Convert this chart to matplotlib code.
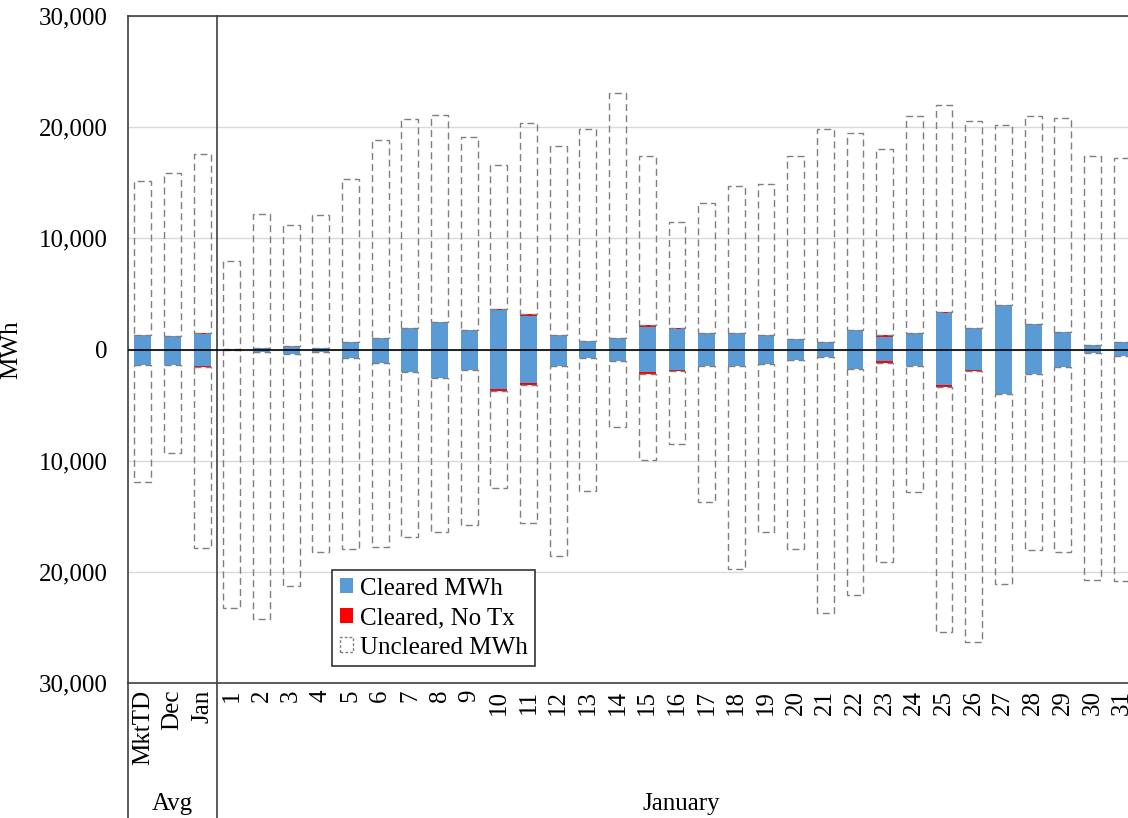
"""Cleared and uncleared MWh by day, January, with averages."""

import matplotlib.pyplot as plt
import numpy as np
from matplotlib.patches import Patch
from matplotlib.ticker import FuncFormatter

plt.rcParams["font.family"] = ["Liberation Serif", "DejaVu Serif"]

avg_labels = ["MktTD", "Dec", "Jan"]
day_labels = [str(d) for d in range(1, 32)]
labels = avg_labels + day_labels

# upper side (MWh)
cleared_up = [1260, 1200, 1400,
              50, 150, 310, 150, 680, 1050, 1920, 2470, 1760, 3530,
              2980, 1330, 740, 1040, 2040, 1820, 1500, 1470, 1300, 970,
              660, 1730, 1100, 1470, 3240, 1930, 4000, 2260, 1600, 370, 700]
notx_up = [40, 40, 80,
           0, 0, 0, 0, 0, 0, 0, 0, 0, 120,
           200, 0, 0, 0, 180, 150, 0, 0, 0, 0,
           0, 0, 200, 0, 120, 0, 0, 0, 0, 0, 0]
uncleared_up = [13900, 14610, 16070,
                7950, 12020, 10890, 11950, 14620, 17800, 18780, 18630, 17340, 12950,
                17220, 16970, 19110, 22060, 15230, 9530, 11650, 13230, 13550, 16480,
                19190, 17770, 16700, 19530, 18640, 18620, 16200, 18740, 19200, 17080, 16500]

# lower side (MWh, shown below zero)
cleared_dn = [1380, 1350, 1480,
              50, 190, 400, 220, 800, 1170, 2010, 2560, 1850, 3590,
              3010, 1450, 800, 1060, 2050, 1820, 1520, 1490, 1310, 970,
              690, 1720, 1050, 1470, 3210, 1880, 4000, 2230, 1570, 300, 600]
notx_dn = [40, 40, 60,
           0, 0, 0, 0, 0, 0, 0, 0, 0, 120,
           200, 0, 0, 0, 150, 150, 0, 0, 0, 0,
           0, 0, 170, 0, 120, 50, 0, 0, 0, 0, 0]
uncleared_dn = [10530, 7880, 16310,
                23220, 24030, 20900, 18000, 17120, 16590, 14890, 13870, 13900, 8740,
                12390, 17170, 11960, 5890, 7750, 6520, 12160, 18280, 15150, 16950,
                23010, 20400, 17930, 11350, 22120, 24380, 17120, 15820, 16650, 20420, 20220]

blue = "#5B9BD5"
red = "#FF0000"
gray = "#7F7F7F"

x = np.arange(len(labels))
cu, nu, uu = np.array(cleared_up), np.array(notx_up), np.array(uncleared_up)
cd, nd, ud = np.array(cleared_dn), np.array(notx_dn), np.array(uncleared_dn)
w = 0.57

fig = plt.figure(figsize=(11.28, 8.18), dpi=100)
ax = fig.add_axes([128 / 1128, 1 - 683 / 818, 1 - 128 / 1128, (683 - 16) / 818])

ax.bar(x, cu, w, color=blue, zorder=2)
ax.bar(x, nu, w, bottom=cu, color=red, zorder=2)
ax.bar(x, uu, w, bottom=cu + nu, fill=False, edgecolor=gray,
       linestyle=(0, (5, 3)), linewidth=1.0, zorder=2)
ax.bar(x, -cd, w, color=blue, zorder=2)
ax.bar(x, -nd, w, bottom=-cd, color=red, zorder=2)
ax.bar(x, -ud, w, bottom=-(cd + nd), fill=False, edgecolor=gray,
       linestyle=(0, (5, 3)), linewidth=1.0, zorder=2)

ax.axhline(0, color="black", linewidth=1.2, zorder=3)

ax.set_ylim(-30000, 30000)
ax.set_yticks(np.arange(-30000, 30001, 10000))
ax.yaxis.set_major_formatter(FuncFormatter(lambda v, p: f"{abs(v):,.0f}"))
ax.yaxis.grid(True, color="#D9D9D9", linewidth=1.0, zorder=0)
ax.set_axisbelow(True)
ax.set_ylabel("MWh", fontsize=18)
ax.yaxis.set_label_coords(-0.106, 0.5)

ax.set_xlim(-0.5, 33.2)
ax.set_xticks(x)
ax.set_xticklabels(labels, rotation=90, fontsize=18)
ax.tick_params(axis="both", length=0, labelsize=18)
ax.tick_params(axis="y", pad=14.5)
ax.tick_params(axis="x", pad=5)

for s in ["top", "left", "bottom"]:
    ax.spines[s].set_color("#404040")
    ax.spines[s].set_linewidth(1.2)
ax.spines["right"].set_visible(False)

# group separators and labels below the axis
tr = ax.get_xaxis_transform()
ax.plot([-0.5, -0.5], [-0.25, 0], transform=tr, color="#404040", lw=1.2, clip_on=False)
ax.plot([2.5, 2.5], [-0.25, 1], transform=tr, color="#404040", lw=1.2, clip_on=False)
ax.text(1, -0.182, "Avg", transform=tr, ha="center", va="center", fontsize=18)
ax.text((2.5 + 33.8) / 2, -0.182, "January", transform=tr, ha="center", va="center", fontsize=18)

handles = [
    Patch(facecolor=blue, edgecolor="none", label="Cleared MWh"),
    Patch(facecolor=red, edgecolor="none", label="Cleared, No Tx"),
    Patch(fill=False, edgecolor=gray, linestyle=(0, (2, 1.5)), linewidth=1.0, label="Uncleared MWh"),
]
leg = ax.legend(handles=handles, loc="upper left", bbox_to_anchor=(0.204, 0.169),
                fontsize=18, frameon=True, fancybox=False, edgecolor="black",
                handlelength=0.55, handleheight=0.55, handletextpad=0.25,
                labelspacing=0.3, borderpad=0.3, borderaxespad=0)
leg.get_frame().set_linewidth(1.2)
leg.set_zorder(5)

fig.savefig("out.png", dpi=100)
